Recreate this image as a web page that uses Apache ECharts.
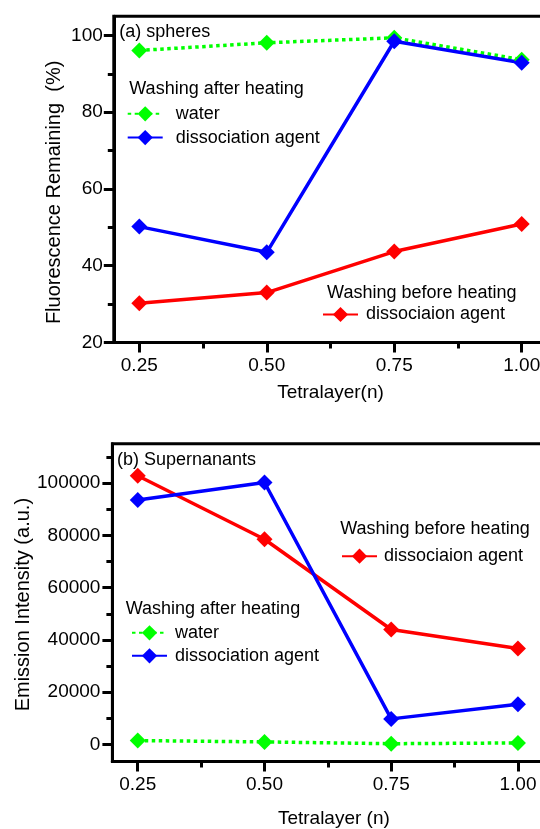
<!DOCTYPE html>
<html>
<head>
<meta charset="utf-8">
<script src="https://cdn.jsdelivr.net/npm/echarts@6/dist/echarts.min.js"></script>
<style>
  html, body { margin: 0; padding: 0; background: #fff; }
  #chart { width: 540px; height: 829px; }
</style>
</head>
<body>
<div id="chart"></div>
<script>
"use strict";

/*-----data-----*/
var tetralayer = [0.25, 0.50, 0.75, 1.00];

// (a) spheres, fluorescence remaining (%)
var spheresWater = [96.1, 98.1, 99.4, 93.7];
var spheresAgentAfter = [50.2, 43.5, 98.5, 92.9];
var spheresAgentBefore = [30.2, 33.0, 43.7, 50.9];

// (b) supernanants, emission intensity (a.u.)
var superWater = [1500, 1000, 300, 600];
var superAgentAfter = [93500, 100200, 9800, 15400];
var superAgentBefore = [102800, 78500, 44000, 36700];

// tick labels
var xTicks = [0.25, 0.50, 0.75, 1.00];
var xMinorTicks = [0.375, 0.625, 0.875];
var spheresTicks = [20, 40, 60, 80, 100];
var spheresMinorTicks = [30, 50, 70, 90];
var superTicks = [0, 20000, 40000, 60000, 80000, 100000];
var superMinorTicks = [10000, 30000, 50000, 70000, 90000, 110000];

var FONT = 'Liberation Sans, Arial, sans-serif';
var GREEN = '#00ff00', BLUE = '#0000ff', RED = '#ff0000';

function pair(xs, ys) {
	return xs.map(function (x, i) { return [x, ys[i]]; });
}

function mainX(grid, name, gap, pad) {
	return {
		type: 'value', gridIndex: grid, position: 'bottom',
		min: 0.2, max: 1.05,
		name: name, nameLocation: 'middle', nameGap: gap, nameMoveOverlap: false,
		nameTextStyle: { color: '#000', fontSize: 19, fontFamily: FONT, padding: pad },
		axisLine: { onZero: false, lineStyle: { color: '#000', width: 3 } },
		axisTick: { customValues: xTicks, length: 10, lineStyle: { color: '#000', width: 3 } },
		axisLabel: {
			customValues: xTicks, margin: 14, color: '#000', fontSize: 19, fontFamily: FONT,
			formatter: function (v) { return v.toFixed(2); }
		},
		splitLine: { show: false }
	};
}

function minorX(grid) {
	return {
		type: 'value', gridIndex: grid, position: 'bottom',
		min: 0.2, max: 1.05,
		axisLine: { show: false, onZero: false },
		axisTick: { customValues: xMinorTicks, length: 6, lineStyle: { color: '#000', width: 3 } },
		axisLabel: { show: false },
		splitLine: { show: false }
	};
}

function mainY(grid, min, max, ticks, name, gap, margin, pad) {
	return {
		type: 'value', gridIndex: grid, position: 'left',
		min: min, max: max,
		name: name, nameLocation: 'middle', nameGap: gap, nameMoveOverlap: false,
		nameTextStyle: { color: '#000', fontSize: 20, fontFamily: FONT, padding: pad },
		axisLine: { onZero: false, lineStyle: { color: '#000', width: 3 } },
		axisTick: { customValues: ticks, length: 10, lineStyle: { color: '#000', width: 3 } },
		axisLabel: {
			customValues: ticks, margin: margin, color: '#000', fontSize: 19, fontFamily: FONT,
			formatter: function (v) { return String(v); }
		},
		splitLine: { show: false }
	};
}

function minorY(grid, min, max, ticks) {
	return {
		type: 'value', gridIndex: grid, position: 'left',
		min: min, max: max,
		axisLine: { show: false, onZero: false },
		axisTick: { customValues: ticks, length: 6, lineStyle: { color: '#000', width: 3 } },
		axisLabel: { show: false },
		splitLine: { show: false }
	};
}

function line(name, xi, yi, data, color, dotted) {
	return {
		name: name, type: 'line', xAxisIndex: xi, yAxisIndex: yi,
		data: data,
		symbol: 'diamond', symbolSize: 16,
		itemStyle: { color: color },
		lineStyle: { color: color, width: 3.5, type: dotted ? [3.5, 3.5] : 'solid' },
		emphasis: { disabled: true },
		animation: false
	};
}

function legend(names, left, top, gap, textPad) {
	return {
		data: names, orient: 'vertical', left: left, top: top,
		padding: 0, itemGap: gap, itemWidth: 35, itemHeight: 19,
		selectedMode: false,
		textStyle: { color: '#000', fontSize: 18, fontFamily: FONT, padding: [0, 0, 0, textPad] }
	};
}

function label(text, x, y) {
	return {
		type: 'text', x: x, y: y,
		style: { text: text, fill: '#000', fontSize: 18, fontFamily: FONT, align: 'left', verticalAlign: 'middle' }
	};
}

var chart = echarts.init(document.getElementById('chart'), null, { renderer: 'canvas' });

var option = {
	backgroundColor: '#fff',
	animation: false,
	grid: [
		{ left: 113.8, width: 433.4, top: 16.3, height: 326.2, outerBoundsMode: 'none', containLabel: false,
			show: true, borderColor: '#000', borderWidth: 3 },
		{ left: 112.4, width: 430.9, top: 443.8, height: 317.7, outerBoundsMode: 'none', containLabel: false,
			show: true, borderColor: '#000', borderWidth: 3 }
	],
	xAxis: [
		mainX(0, 'Tetralayer(n)', 41, 0),
		minorX(0),
		mainX(1, 'Tetralayer (n)', 48, [0, 0, 0, 12]),
		minorX(1)
	],
	yAxis: [
		mainY(0, 20, 105, spheresTicks, 'Fluorescence Remaining  (%)', 49, 11, [0, 26, 0, 0]),
		minorY(0, 20, 105, spheresMinorTicks),
		mainY(1, -6500, 115000, superTicks, 'Emission Intensity (a.u.)', 79, 12, [0, 4, 0, 0]),
		minorY(1, -6500, 115000, superMinorTicks)
	],
	legend: [
		legend(['water', 'dissociation agent'], 126.7, 104.8, 5.8, 8),
		legend(['dissociaion agent'], 322, 305.5, 0, 3),
		legend(['dissociaion agent'], 341, 547.2, 0, 2),
		legend(['water', 'dissociation agent'], 131, 623.8, 5, 3)
	],
	graphic: [
		label('(a) spheres', 119.3, 32.3),
		label('Washing after heating', 129.3, 89.3),
		label('Washing before heating', 327.1, 293.3),
		label('(b) Supernanants', 117, 460),
		label('Washing before heating', 340.2, 529.3),
		label('Washing after heating', 125.7, 609.3)
	],
	series: [
		line('water', 0, 0, pair(tetralayer, spheresWater), GREEN, true),
		line('dissociation agent', 0, 0, pair(tetralayer, spheresAgentAfter), BLUE, false),
		line('dissociaion agent', 0, 0, pair(tetralayer, spheresAgentBefore), RED, false),
		line('water', 2, 2, pair(tetralayer, superWater), GREEN, true),
		line('dissociaion agent', 2, 2, pair(tetralayer, superAgentBefore), RED, false),
		line('dissociation agent', 2, 2, pair(tetralayer, superAgentAfter), BLUE, false)
	]
};
chart.setOption(option);
</script>
</body>
</html>
